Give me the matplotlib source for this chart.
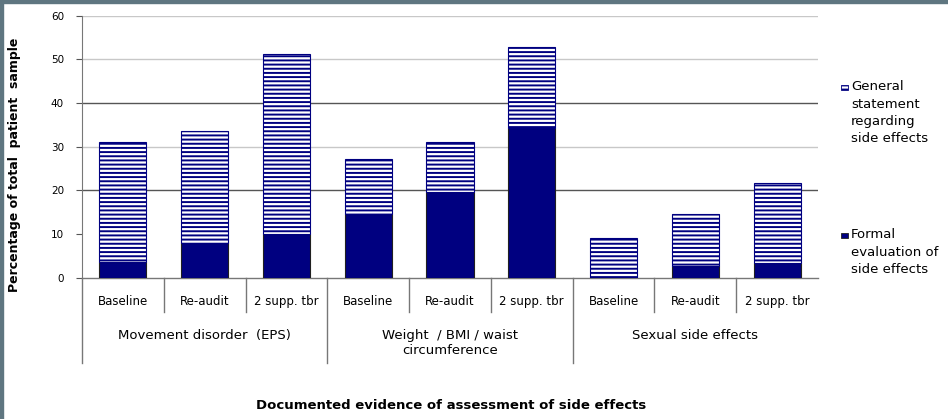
import matplotlib.pyplot as plt
from matplotlib.patches import Rectangle
from matplotlib.transforms import blended_transform_factory

plt.rcParams['font.family'] = ['DejaVu Sans']
plt.rcParams['hatch.linewidth'] = 1.4
plt.rcParams['hatch.color'] = '#000080'

# Three assessment points within each side-effect domain
timepoints = ['Baseline', 'Re-audit', '2 supp. tbr']
domains = ['Movement disorder  (EPS)', 'Weight  / BMI / waist\ncircumference', 'Sexual side effects']
series_names = ['General\nstatement\nregarding\nside effects', 'Formal\nevaluation of\nside effects']

# Percentages of patient sample, in order: 3 domains x 3 time points
formal = [3.5, 7.9, 10.0, 14.7, 19.7, 34.2, 0.0, 2.7, 3.3]
total = [31.1, 33.7, 51.2, 27.2, 31.0, 52.8, 9.0, 14.5, 21.8]
general = [t - f for t, f in zip(total, formal)]

yticks = [0, 10, 20, 30, 40, 50, 60]

NAVY = '#000080'
W, H = 948, 419

fig = plt.figure(figsize=(W / 100, H / 100), dpi=100)
ax = fig.add_axes([82 / W, 1 - 277.7 / H, 736 / W, 262 / H])

x = list(range(len(formal)))
bar_formal = ax.bar(x, formal, width=0.575, color=NAVY, edgecolor='#202020',
                    linewidth=0.8, zorder=3)
bar_general = ax.bar(x, general, bottom=formal, width=0.575, color='white',
                     hatch='----', edgecolor=NAVY, linewidth=0.8, zorder=3)

ax.set_xlim(-0.5, len(x) - 0.5)
ax.set_ylim(0, 60)

# horizontal gridlines, alternate shades
for v in yticks[2:]:
    shade = '#555555' if v in (20, 40) else '#c8c8c8'
    ax.axhline(v, color=shade, linewidth=1.0, zorder=1)

ax.set_yticks(yticks)
ax.set_yticklabels([str(v) for v in yticks], fontsize=7.5)
ax.tick_params(axis='y', length=4, width=0.8, color='#555555', pad=9)
ax.set_xticks([])
for side in ('top', 'right'):
    ax.spines[side].set_visible(False)
ax.spines['left'].set_color('#777777')
ax.spines['bottom'].set_color('#777777')
ax.spines['bottom'].set_linewidth(1.0)

# multi-level category axis below the plot
trans = blended_transform_factory(ax.transData, ax.transAxes)
short_y = -34 / 262
long_y = -85 / 262
for i in range(len(x)):
    xb = i - 0.5
    y_end = long_y if i % 3 == 0 else short_y
    ax.plot([xb, xb], [0, y_end], color='#777777', linewidth=1.0,
            transform=trans, clip_on=False)

for i in x:
    ax.text(i, -24 / 262, timepoints[i % 3], transform=trans, ha='center',
            va='center', fontsize=8.5)
for g, name in enumerate(domains):
    ax.text(g * 3 + 1, -51 / 262, name, transform=trans, ha='center',
            va='top', fontsize=9.5, linespacing=1.25)

fig.text(451 / W, 1 - 405 / H, 'Documented evidence of assessment of side effects',
         ha='center', va='center', fontsize=9.5, fontweight='bold')
fig.text(15 / W, 1 - 165 / H, 'Percentage of total  patient  sample',
         ha='center', va='center', rotation=90, fontsize=9, fontweight='bold')

# legend swatches and labels on the right
swatches = [
    dict(y=85, facecolor='white', hatch='----', edgecolor=NAVY),
    dict(y=233, facecolor=NAVY, hatch=None, edgecolor='#202020'),
]
for sw, label in zip(swatches, series_names):
    fig.patches.append(Rectangle((841 / W, 1 - (sw['y'] + 5) / H), 7 / W, 5 / H,
                                 transform=fig.transFigure, facecolor=sw['facecolor'],
                                 hatch=sw['hatch'], edgecolor=sw['edgecolor'],
                                 linewidth=0.6))
    fig.text(851 / W, 1 - (sw['y'] - 5) / H, label, ha='left', va='top',
             fontsize=9.5, linespacing=1.45)

# window frame strips along top and left
fig.patches.append(Rectangle((0, 1 - 3 / H), 1, 3 / H, transform=fig.transFigure,
                             color='#5f7680', zorder=10))
fig.patches.append(Rectangle((0, 0), 3 / W, 1, transform=fig.transFigure,
                             color='#5f7680', zorder=10))

fig.savefig('out.png', dpi=100)
